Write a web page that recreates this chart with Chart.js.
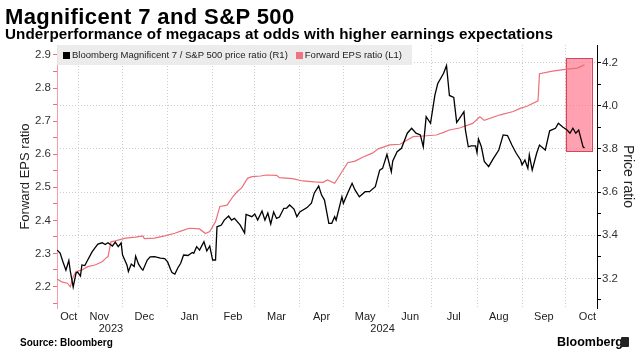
<!DOCTYPE html>
<html>
<head>
<meta charset="utf-8">
<script src="https://cdn.jsdelivr.net/npm/chart.js@4"></script>
<style>
html,body{margin:0;padding:0;background:#fff;}
body{width:643px;height:356px;position:relative;overflow:hidden;font-family:'Liberation Sans',Arial,sans-serif;color:#000;}
#c{position:absolute;left:0;top:0;z-index:1;}
.t{position:absolute;white-space:nowrap;z-index:2;}
#title{left:5px;top:6px;font-size:22px;line-height:22px;font-weight:bold;letter-spacing:0.4px;}
#sub{left:5px;top:26px;font-size:15.2px;line-height:15.2px;font-weight:bold;letter-spacing:0.1px;}
#legend{position:absolute;z-index:3;left:57px;top:45px;width:355px;height:20px;background:rgba(234,234,234,0.9);font-size:9.5px;line-height:20px;color:#222;white-space:nowrap;}
#legend .sq{display:inline-block;width:7px;height:7px;vertical-align:-0.5px;margin:0 2px 0 6px;}
#source{left:20px;top:338px;font-size:10px;line-height:10px;font-weight:bold;}
#logo{left:557px;top:336px;font-size:12.5px;line-height:12.5px;font-weight:bold;}
#logoicon{position:absolute;z-index:2;left:621px;top:337px;width:8px;height:10px;background:#222;border-radius:1px;}
</style>
</head>
<body>
<canvas id="c" width="643" height="356"></canvas>
<div class="t" id="title">Magnificent 7 and S&amp;P 500</div>
<div class="t" id="sub">Underperformance of megacaps at odds with higher earnings expectations</div>
<div id="legend"><span class="sq" style="background:#000"></span>Bloomberg Magnificent 7 / S&amp;P 500 price ratio (R1)<span class="sq" style="background:#f07480;margin-left:8px"></span>Forward EPS ratio (L1)</div>
<div class="t" id="source">Source: Bloomberg</div>
<div class="t" id="logo">Bloomberg</div>
<div id="logoicon"></div>
<script>
// x values are days since 2023-10-01
const priceDay = [16,18,20,22,24,25,27,29,30,32,33,35,37,40,42,44,47,49,51,54,56,58,60,61,64,65,67,69,70,72,74,75,78,80,83,87,90,92,94,95,97,99,101,103,106,109,110,112,114,117,119,121,123,125,126,129,131,134,136,138,142,145,146,150,152,154,157,159,161,163,165,167,169,172,174,176,179,181,183,188,191,193,196,198,200,203,205,207,208,212,213,216,219,221,224,228,231,235,238,240,243,246,247,250,253,257,260,263,266,268,270,273,276,278,282,284,286,289,291,293,296,297,299,301,304,305,306,308,310,313,316,320,323,326,329,332,335,336,338,340,341,343,346,348,352,355,359,361,364,367,369,371,373,375,376,378,379];
const priceRatio = [3.331,3.317,3.276,3.238,3.283,3.234,3.160,3.225,3.229,3.211,3.262,3.259,3.285,3.323,3.341,3.359,3.365,3.357,3.365,3.350,3.368,3.347,3.364,3.308,3.262,3.232,3.266,3.255,3.303,3.266,3.245,3.238,3.285,3.300,3.301,3.294,3.292,3.276,3.242,3.227,3.220,3.248,3.270,3.308,3.306,3.320,3.316,3.347,3.331,3.370,3.327,3.350,3.285,3.285,3.439,3.447,3.470,3.489,3.470,3.478,3.447,3.410,3.496,3.486,3.498,3.470,3.512,3.470,3.503,3.452,3.508,3.478,3.484,3.525,3.526,3.540,3.521,3.486,3.508,3.528,3.549,3.596,3.628,3.586,3.563,3.455,3.455,3.486,3.470,3.578,3.548,3.596,3.641,3.610,3.578,3.602,3.602,3.625,3.702,3.710,3.775,3.694,3.744,3.787,3.803,3.873,3.896,3.873,3.865,3.810,3.950,3.919,4.050,4.104,4.151,4.187,4.048,4.039,3.923,3.942,3.973,3.888,3.810,3.814,3.814,3.783,3.846,3.810,3.742,3.718,3.753,3.795,3.865,3.862,3.818,3.780,3.749,3.726,3.749,3.710,3.772,3.702,3.779,3.818,3.795,3.884,3.896,3.919,3.902,3.888,3.873,3.896,3.873,3.888,3.862,3.810,3.804];
const epsDay = [16,19,23,25,27,29,33,37,42,47,50,51,53,56,63,70,75,76,83,90,97,102,107,114,118,121,125,128,133,137,140,143,147,150,156,160,167,169,178,185,193,199,202,207,212,216,221,227,233,237,245,252,257,261,268,277,282,286,293,302,307,310,321,330,335,339,347,348,357,367,374,379];
const epsRatio = [2.223,2.214,2.210,2.199,2.229,2.245,2.250,2.260,2.265,2.275,2.288,2.290,2.335,2.338,2.346,2.349,2.353,2.345,2.346,2.353,2.361,2.369,2.376,2.374,2.360,2.366,2.396,2.442,2.446,2.472,2.487,2.498,2.527,2.532,2.534,2.537,2.536,2.529,2.526,2.519,2.516,2.515,2.522,2.512,2.547,2.574,2.579,2.592,2.603,2.616,2.628,2.630,2.643,2.653,2.655,2.658,2.666,2.673,2.679,2.693,2.713,2.702,2.719,2.729,2.739,2.744,2.761,2.843,2.851,2.857,2.860,2.870];

const monthStartDay = [31,61,92,123,152,183,213,244,274,305,336,366];
const monthLabels = ['Oct','Nov','Dec','Jan','Feb','Mar','Apr','May','Jun','Jul','Aug','Sep','Oct'];
const monthLabelDay = [24,45,76,107,137,167,198,228,259,289,320,351,381];
const yearLabels = ['2023','2024'];
const yearLabelDay = [53,240];
const leftTicks = [2.2,2.3,2.4,2.5,2.6,2.7,2.8,2.9];
const rightTicks = [3.2,3.4,3.6,3.8,4.0,4.2];
const highlightDay = [366,384];
const highlightRange = [3.79,4.22];
const xRange = [15.86,387.6];
const leftRange = [2.135,2.93];
const rightRange = [3.0625,4.282];

const FONT = "'Liberation Sans', Arial, sans-serif";
const GRID = '#cccccc';
const PINK = '#ec6f7a';

function withMinors(majors, lo, hi){
  const step = majors[1]-majors[0];
  const out = [];
  const cands = [majors[0]-step/2];
  majors.forEach(v => { cands.push(v); cands.push(v+step/2); });
  cands.forEach((v,i) => { if (v>=lo && v<=hi) out.push({value:+v.toFixed(4), minor: i%2===0}); });
  return out;
}

const highlightBox = {
  id: 'highlightBox',
  beforeDatasetsDraw(chart){
    const {ctx, scales} = chart;
    const x1 = scales.x.getPixelForValue(highlightDay[0]);
    const x2 = scales.x.getPixelForValue(highlightDay[1]);
    const y1 = scales.yR.getPixelForValue(highlightRange[1]);
    const y2 = scales.yR.getPixelForValue(highlightRange[0]);
    ctx.save();
    ctx.fillStyle = 'rgba(255,110,135,0.65)';
    ctx.fillRect(x1, y1, x2-x1, y2-y1);
    ctx.strokeStyle = '#d6455a';
    ctx.lineWidth = 1;
    ctx.strokeRect(Math.round(x1)+0.5, Math.round(y1)+0.5, Math.round(x2-x1), Math.round(y2-y1));
    ctx.restore();
  }
};

const tickFont = {family: FONT, size: 11.5};

new Chart(document.getElementById('c'), {
  type: 'line',
  data: {
    datasets: [
      {
        label: 'Bloomberg Magnificent 7 / S&P 500 price ratio (R1)',
        data: priceDay.map((d,i) => ({x: d, y: priceRatio[i]})),
        xAxisID: 'x', yAxisID: 'yR',
        borderColor: '#000', borderWidth: 1.3, pointRadius: 0, tension: 0, fill: false
      },
      {
        label: 'Forward EPS ratio (L1)',
        data: epsDay.map((d,i) => ({x: d, y: epsRatio[i]})),
        xAxisID: 'x', yAxisID: 'yL',
        borderColor: PINK, borderWidth: 1.2, pointRadius: 0, tension: 0, fill: false
      }
    ]
  },
  options: {
    responsive: false,
    animation: false,
    devicePixelRatio: 1,
    layout: {padding: {top: 45, bottom: 20, left: 0, right: 0}},
    plugins: {legend: {display: false}, tooltip: {enabled: false}},
    scales: {
      x: {
        type: 'linear', position: 'bottom', weight: 0,
        min: xRange[0], max: xRange[1],
        afterBuildTicks: s => { s.ticks = monthStartDay.map(v => ({value: v})); },
        afterFit: s => { s.height = 0; },
        ticks: {display: false},
        grid: {color: GRID, lineWidth: 1, drawTicks: false},
        border: {display: false, dash: [1,2]}
      },
      xm: {
        type: 'linear', position: 'bottom', weight: 1,
        min: xRange[0], max: xRange[1],
        afterBuildTicks: s => { s.ticks = monthLabelDay.map(v => ({value: v})); },
        afterFit: s => { s.height = 14; },
        ticks: {autoSkip: false, maxRotation: 0, minRotation: 0, padding: 2, color: '#222', font: {family: FONT, size: 11},
          callback: (v, i) => monthLabels[i]},
        grid: {display: false, drawTicks: false},
        border: {display: false}
      },
      xy: {
        type: 'linear', position: 'bottom', weight: 2,
        min: xRange[0], max: xRange[1],
        afterBuildTicks: s => { s.ticks = yearLabelDay.map(v => ({value: v})); },
        afterFit: s => { s.height = 14; },
        ticks: {autoSkip: false, maxRotation: 0, minRotation: 0, padding: 0, color: '#222', font: {family: FONT, size: 11},
          callback: (v, i) => yearLabels[i]},
        grid: {display: false, drawTicks: false},
        border: {display: false}
      },
      yL: {
        type: 'linear', position: 'left',
        min: leftRange[0], max: leftRange[1],
        afterBuildTicks: s => { s.ticks = withMinors(leftTicks, leftRange[0], leftRange[1]); },
        afterFit: s => { s.width = 57; },
        ticks: {padding: 2, color: '#333', font: tickFont,
          callback: (v, i, t) => t[i].minor ? '' : v.toFixed(1)},
        grid: {drawOnChartArea: false, drawTicks: true, tickLength: 4, tickColor: PINK, tickWidth: 1, tickBorderDash: []},
        border: {display: true, color: '#f2a0a6', width: 1},
        title: {display: true, text: 'Forward EPS ratio', color: '#222', font: {family: FONT, size: 13}, padding: {top: 18, bottom: 0}}
      },
      yR: {
        type: 'linear', position: 'right',
        min: rightRange[0], max: rightRange[1],
        afterBuildTicks: s => { s.ticks = withMinors(rightTicks, rightRange[0], rightRange[1]); },
        afterFit: s => { s.width = 46; },
        ticks: {padding: 1, color: '#333', font: tickFont,
          callback: (v, i, t) => t[i].minor ? '' : v.toFixed(1)},
        grid: {drawOnChartArea: true, drawTicks: true, tickLength: 4, tickWidth: 1, tickColor: '#000', tickBorderDash: [],
          color: c => (c.tick && c.tick.minor) ? 'rgba(0,0,0,0)' : GRID},
        border: {display: true, color: '#000', width: 1, dash: [1,2]},
        title: {display: true, text: 'Price ratio', color: '#222', font: {family: FONT, size: 14}, padding: {top: 7, bottom: 0}}
      }
    }
  },
  plugins: [highlightBox]
});
</script>
</body>
</html>
